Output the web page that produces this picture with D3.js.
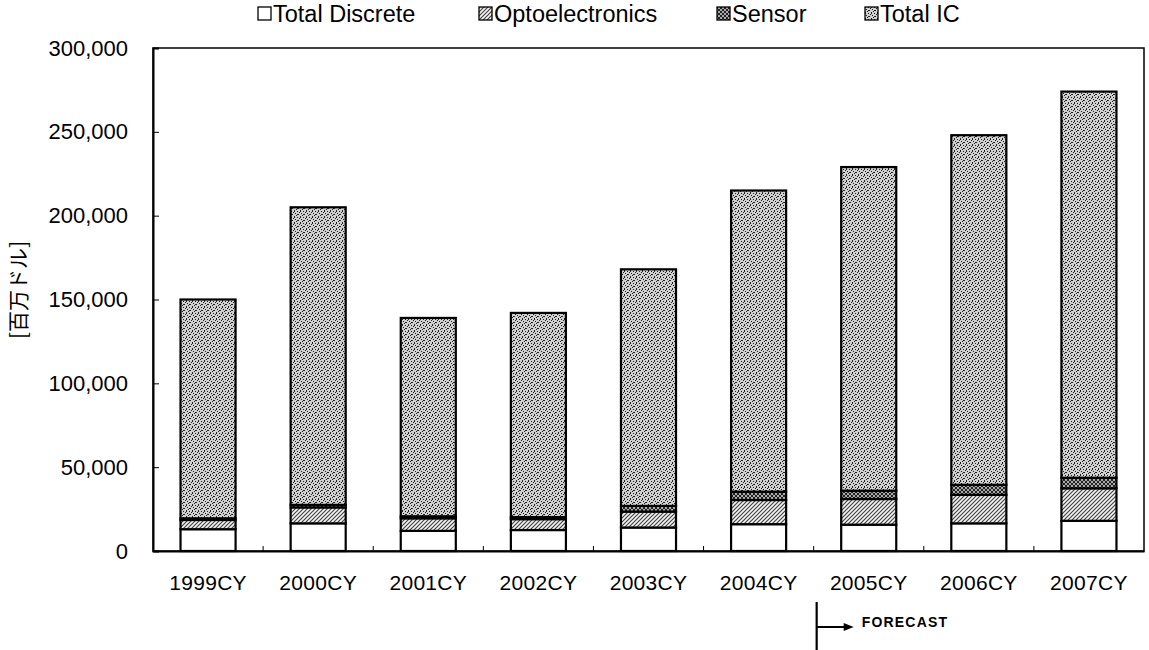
<!DOCTYPE html>
<html><head><meta charset="utf-8">
<script src="https://cdn.jsdelivr.net/npm/d3@7"></script>
<style>
body{margin:0;background:#fff;}
text{font-family:"Liberation Sans",Arial,sans-serif;}
</style></head>
<body><svg id="c" width="1149" height="650"></svg>
<script>
const categories = ["1999CY","2000CY","2001CY","2002CY","2003CY","2004CY","2005CY","2006CY","2007CY"];
const totalDiscrete = [13000,16500,12000,12500,14000,16000,15700,16500,18000];
const optoelectronics = [5500,9500,7500,6500,9500,14400,15300,17000,19400];
const sensor = [1000,1500,1200,1200,3400,5000,5000,6000,6300];
const totalIC = [130500,177500,118300,121800,141100,179600,193000,208500,230300];
const seriesNames = ["Total Discrete","Optoelectronics","Sensor","Total IC"];
const seriesKeys = ["d","o","s","ic"];
const yTicks = [0,50000,100000,150000,200000,250000,300000];
const yLabel = "[百万ドル]";
const forecastLabel = "FORECAST";

const rows = categories.map((c,i)=>({cat:c,d:totalDiscrete[i],o:optoelectronics[i],s:sensor[i],ic:totalIC[i]}));
const svg = d3.select("#c");
const L=153,T=48,R=1144,B=551;

// patterns
const defs = svg.append("defs");
const pO = defs.append("pattern").attr("id","pO").attr("patternUnits","userSpaceOnUse").attr("width",4).attr("height",4);
pO.append("rect").attr("width",4).attr("height",4).attr("fill","#f4f4f4");
pO.append("path").attr("d","M-1,1 L1,-1 M0,4 L4,0 M3,5 L5,3").attr("stroke","#444").attr("stroke-width",1.2);
const pS = defs.append("pattern").attr("id","pS").attr("patternUnits","userSpaceOnUse").attr("width",4).attr("height",4);
pS.append("rect").attr("width",4).attr("height",4).attr("fill","#aaa");
pS.append("path").attr("d","M0,4 L4,0 M0,0 L4,4").attr("stroke","#222").attr("stroke-width",1);
const pI = defs.append("pattern").attr("id","pI").attr("patternUnits","userSpaceOnUse").attr("width",6).attr("height",6);
pI.append("rect").attr("width",6).attr("height",6).attr("fill","#d0d0d0");
[[0,0],[3,1],[1,3],[4,4],[2,5],[5,2],[0,1],[3,4]].forEach(p=>pI.append("rect").attr("x",p[0]).attr("y",p[1]).attr("width",1).attr("height",1).attr("fill","#222"));
const fills = {d:"#fff",o:"url(#pO)",s:"url(#pS)",ic:"url(#pI)"};

const x = d3.scaleBand().domain(categories).range([L,R]).paddingInner(0.5).paddingOuter(0.25);
const y = d3.scaleLinear().domain([0,300000]).range([B,T]);

const stack = d3.stack().keys(seriesKeys)(rows);
svg.append("g").selectAll("g").data(stack).join("g")
  .attr("fill",d=>fills[d.key])
  .selectAll("rect").data(d=>d).join("rect")
  .attr("x",d=>x(d.data.cat)).attr("width",x.bandwidth())
  .attr("y",d=>y(d[1])).attr("height",d=>y(d[0])-y(d[1]))
  .attr("stroke","#000").attr("stroke-width",2.2);

// frame
svg.append("rect").attr("x",L).attr("y",T).attr("width",R-L).attr("height",B-T).attr("fill","none").attr("stroke","#000").attr("stroke-width",1.5);

// y axis
const ya = svg.append("g").attr("transform",`translate(${L},0)`)
  .call(d3.axisLeft(y).tickValues(yTicks).tickSize(-6).tickPadding(25).tickFormat(d3.format(",")));
ya.select(".domain").attr("stroke","#000").attr("stroke-width",2);
ya.selectAll("text").attr("font-size",22).attr("fill","#000").attr("font-family","Liberation Sans, Arial, sans-serif");

// x axis
const step = x.step();
const xa = svg.append("g").attr("transform",`translate(0,${B})`)
  .call(d3.axisBottom(x).tickSize(0).tickPadding(24));
xa.select(".domain").attr("stroke","#000").attr("stroke-width",2);
xa.selectAll("text").attr("font-size",21).attr("letter-spacing",0.3).attr("fill","#000").attr("font-family","Liberation Sans, Arial, sans-serif");
svg.append("g").selectAll("line").data(categories.slice(1)).join("line")
  .attr("x1",d=>x(d)-(step-x.bandwidth())/2).attr("x2",d=>x(d)-(step-x.bandwidth())/2)
  .attr("y1",B).attr("y2",B-5).attr("stroke","#000");

// y label
svg.append("text").attr("transform",`translate(26,290) rotate(-90)`).attr("text-anchor","middle")
  .attr("font-size",21).style("font-family","'Noto Sans CJK JP',sans-serif").text(yLabel);

// legend
const legX = [258,479,717,865];
const lg = svg.append("g").selectAll("g").data(seriesKeys).join("g")
  .attr("transform",(d,i)=>`translate(${legX[i]},0)`);
lg.append("rect").attr("width",13).attr("height",13).attr("y",7).attr("fill",d=>fills[d]).attr("stroke","#000").attr("stroke-width",1.3);
lg.append("text").attr("x",15).attr("y",21.5).attr("font-size",23.5).text((d,i)=>seriesNames[i]);

// forecast marker
const fx = x("2005CY")-(step-x.bandwidth())/2+3;
svg.append("line").attr("x1",fx).attr("x2",fx).attr("y1",602).attr("y2",650).attr("stroke","#000").attr("stroke-width",2.2);
svg.append("line").attr("x1",fx).attr("x2",fx+30).attr("y1",627).attr("y2",627).attr("stroke","#000").attr("stroke-width",2);
svg.append("path").attr("d",`M${fx+37},627 L${fx+27},623 L${fx+27},631 Z`).attr("fill","#000");
svg.append("text").attr("x",fx+45).attr("y",627).attr("font-size",14).attr("font-weight","bold").attr("letter-spacing",1.2).text(forecastLabel);
</script></body></html>
